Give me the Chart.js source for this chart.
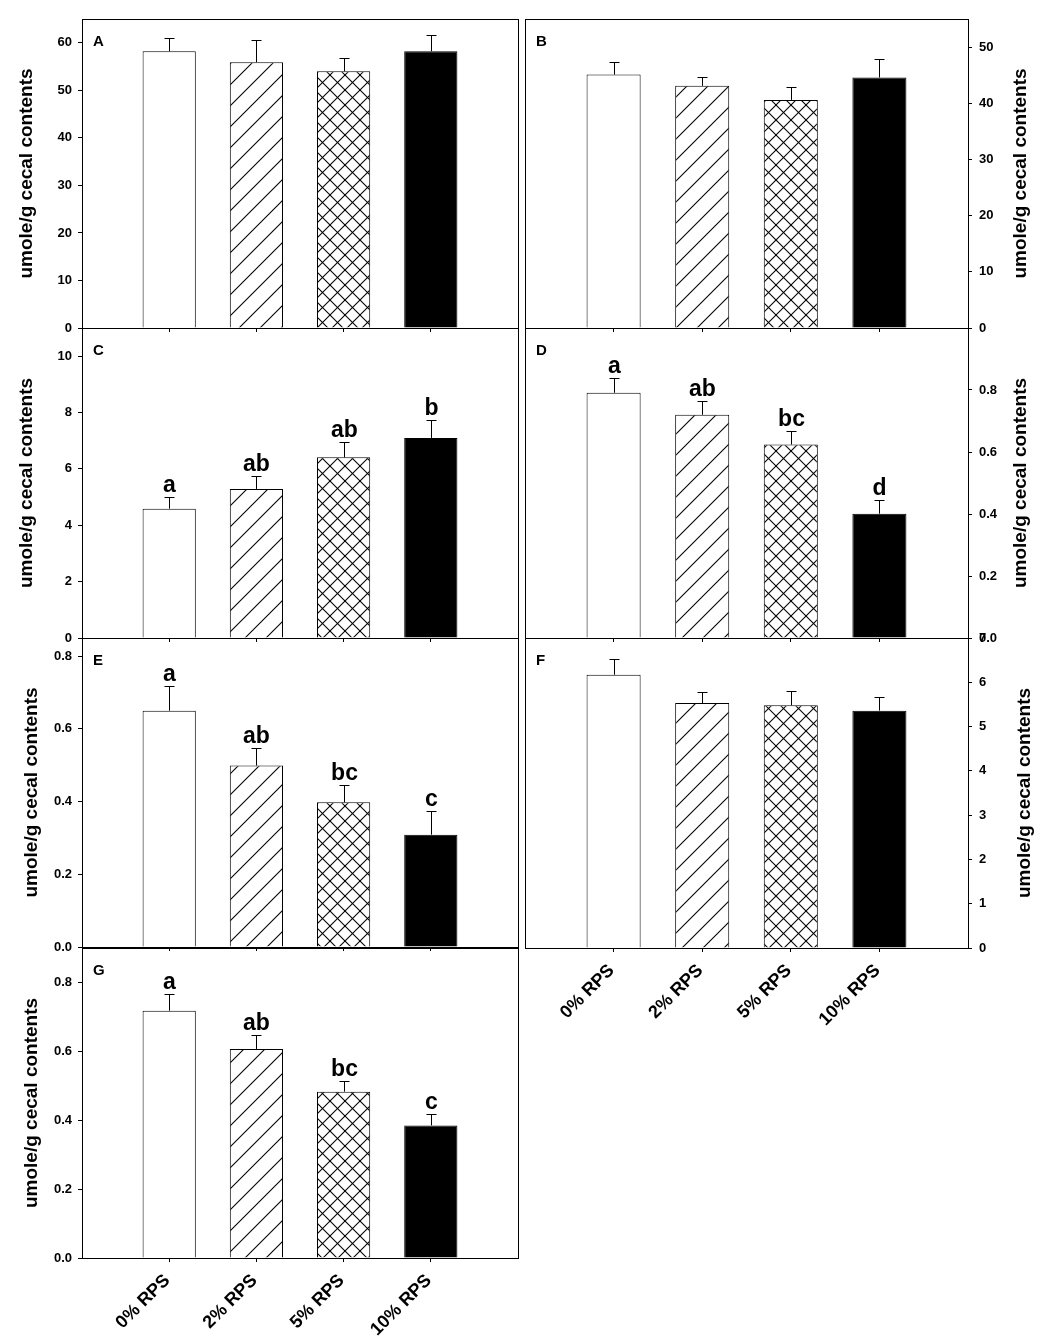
<!DOCTYPE html>
<html>
<head>
<meta charset="utf-8">
<script src="https://cdn.jsdelivr.net/npm/chart.js@4.4.1/dist/chart.umd.min.js"></script>
<style>
  html, body { margin: 0; padding: 0; background: #fff; }
  #figure { position: relative; width: 1037px; height: 1339px; overflow: hidden; }
  #figure canvas { position: absolute; }
</style>
</head>
<body>
<div id="figure"></div>
<script>
// Cecal metabolites by resistant potato starch level, panels A-G

const groups = ['0% RPS', '2% RPS', '5% RPS', '10% RPS'];
const yTitle = 'umole/g cecal contents';

// bar heights (mean) and upward error (SEM)
const meansA = [58.2, 55.9, 54.0, 58.2];
const semA   = [2.7, 4.7, 2.9, 3.5];
const meansB = [45.1, 43.1, 40.6, 44.6];
const semB   = [2.2, 1.5, 2.3, 3.3];
const meansC = [4.59, 5.29, 6.41, 7.10];
const semC   = [0.41, 0.46, 0.53, 0.64];
const meansD = [0.791, 0.720, 0.624, 0.401];
const semD   = [0.048, 0.043, 0.044, 0.044];
const meansE = [0.650, 0.499, 0.398, 0.309];
const semE   = [0.067, 0.049, 0.047, 0.064];
const meansF = [6.17, 5.53, 5.48, 5.36];
const semF   = [0.35, 0.24, 0.33, 0.30];
const meansG = [0.718, 0.607, 0.483, 0.385];
const semG   = [0.049, 0.040, 0.032, 0.033];

// significance letters
const lettersC = ['a', 'ab', 'ab', 'b'];
const lettersD = ['a', 'ab', 'bc', 'd'];
const lettersE = ['a', 'ab', 'bc', 'c'];
const lettersG = ['a', 'ab', 'bc', 'c'];

const FONT = '"Liberation Sans", Arial, sans-serif';
Chart.defaults.font.family = FONT;
Chart.defaults.font.weight = 'bold';
Chart.defaults.color = '#000';

// hatch fills
function makeHatch(kind) {
    const s = kind === 'diag' ? 21 : 15;
    const c = document.createElement('canvas');
    c.width = s; c.height = s;
    const g = c.getContext('2d');
    g.fillStyle = '#fff';
    g.fillRect(0, 0, s, s);
    g.strokeStyle = '#000';
    g.lineWidth = 1.1;
    for (let k = -1; k <= 1; k++) {
        g.beginPath();
        g.moveTo(-s + k * s, 2 * s);
        g.lineTo(2 * s + k * s, -s);
        g.stroke();
        if (kind === 'cross') {
            g.beginPath();
            g.moveTo(-s, -s + k * s);
            g.lineTo(2 * s, 2 * s + k * s);
            g.stroke();
        }
    }
    return g.createPattern(c, 'repeat');
}
const fills = ['#fff', makeHatch('diag'), makeHatch('cross'), '#000'];

// error bars, letters, frame, panel tag and y title
const panelDecor = {
    id: 'panelDecor',
    afterDraw(chart, args, o) {
        const { ctx, chartArea: a } = chart;
        const y = chart.scales.y;
        const bars = chart.getDatasetMeta(0).data;
        ctx.save();
        ctx.strokeStyle = '#000';
        ctx.fillStyle = '#000';
        ctx.lineWidth = 1;
        bars.forEach((bar, i) => {
            const x = Math.round(bar.x) + 0.5;
            const top = Math.round(y.getPixelForValue(o.means[i] + o.sem[i])) + 0.5;
            ctx.beginPath();
            ctx.moveTo(x, bar.y);
            ctx.lineTo(x, top);
            ctx.moveTo(x - 5, top);
            ctx.lineTo(x + 5, top);
            ctx.stroke();
            if (o.letters) {
                ctx.font = 'bold 23px ' + FONT;
                ctx.textAlign = 'center';
                ctx.textBaseline = 'alphabetic';
                ctx.fillText(o.letters[i], x, top - 6);
            }
        });
        ctx.strokeRect(Math.round(a.left) + 0.5, Math.round(a.top) + 0.5,
                       Math.round(a.width), Math.round(a.height));
        ctx.font = 'bold 15px ' + FONT;
        ctx.textAlign = 'left';
        ctx.textBaseline = 'top';
        ctx.fillText(o.tag, a.left + 11, a.top + 15);
        ctx.translate(o.titleX, (a.top + a.bottom) / 2);
        ctx.rotate(-Math.PI / 2);
        ctx.font = 'bold 19px ' + FONT;
        ctx.textAlign = 'center';
        ctx.textBaseline = 'middle';
        ctx.fillText(yTitle, 0, 0);
        ctx.restore();
    }
};

const fig = document.getElementById('figure');
const fmtInt = v => String(v);
const fmtDec = v => v.toFixed(1);

function drawPanel(p) {
    const canvas = document.createElement('canvas');
    canvas.width = p.w;
    canvas.height = p.h;
    canvas.style.left = p.x + 'px';
    canvas.style.top = p.y + 'px';
    fig.appendChild(canvas);
    const right = p.side === 'right';

    new Chart(canvas, {
        type: 'bar',
        data: {
            datasets: [{
                data: p.means.map((v, i) => ({ x: i + 1, y: v })),
                backgroundColor: fills,
                borderColor: '#000',
                borderWidth: 1,
                barPercentage: 0.61,
                categoryPercentage: 1
            }]
        },
        options: {
            responsive: false,
            animation: false,
            layout: { padding: { top: p.padTop, left: right ? 4 : 0, right: right ? 0 : 4, bottom: 0 } },
            plugins: {
                legend: { display: false },
                tooltip: { enabled: false },
                panelDecor: { means: p.means, sem: p.sem, letters: p.letters, tag: p.tag, titleX: p.titleX }
            },
            scales: {
                x: {
                    type: 'linear',
                    min: 0,
                    max: 5,
                    offset: false,
                    grid: {
                        offset: false,
                        drawOnChartArea: false,
                        tickLength: 4,
                        color: ctx => (ctx.tick && ctx.tick.value >= 1 && ctx.tick.value <= 4) ? '#000' : 'rgba(0,0,0,0)'
                    },
                    border: { color: '#000', width: 1 },
                    ticks: {
                        stepSize: 1,
                        autoSkip: false,
                        minRotation: 45,
                        maxRotation: 45,
                        padding: 8,
                        labelOffset: -2,
                        font: { size: 18, weight: 'bold' },
                        callback: v => (p.showLabels && v >= 1 && v <= 4) ? groups[v - 1] : ''
                    },
                    afterFit: s => { s.height = p.xh; s.paddingLeft = 0; s.paddingRight = 0; }
                },
                y: {
                    position: p.side,
                    min: 0,
                    max: p.max,
                    grid: { drawOnChartArea: false, tickLength: 4, color: '#000' },
                    border: { color: '#000', width: 1 },
                    ticks: {
                        stepSize: p.step,
                        includeBounds: false,
                        padding: right ? 7 : 6,
                        font: { size: 13, weight: 'bold' },
                        callback: v => (p.hideTop && v >= p.hideTop) ? '' : p.fmt(v)
                    },
                    afterFit: s => { s.width = p.yw; s.paddingTop = 0; s.paddingBottom = 0; }
                }
            }
        },
        plugins: [panelDecor]
    });
}

const L = { x: 0, w: 522, yw: 82, side: 'left' };
const R = { x: 521, w: 516, yw: 69, side: 'right' };

drawPanel({ ...L, y: 0,   h: 340, padTop: 19, xh: 12, tag: 'A', means: meansA, sem: semA, max: 65,   step: 10,  fmt: fmtInt, titleX: 27 });
drawPanel({ ...R, y: 0,   h: 340, padTop: 19, xh: 12, tag: 'B', means: meansB, sem: semB, max: 55,   step: 10,  fmt: fmtInt, titleX: 500 });
drawPanel({ ...L, y: 316, h: 334, padTop: 12, xh: 12, tag: 'C', means: meansC, sem: semC, letters: lettersC, max: 11, step: 2, fmt: fmtInt, titleX: 27 });
drawPanel({ ...R, y: 316, h: 334, padTop: 12, xh: 12, tag: 'D', means: meansD, sem: semD, letters: lettersD, max: 1.0, step: 0.2, fmt: fmtDec, hideTop: 0.99, titleX: 500 });
drawPanel({ ...L, y: 626, h: 333, padTop: 12, xh: 12, tag: 'E', means: meansE, sem: semE, letters: lettersE, max: 0.85, step: 0.2, fmt: fmtDec, titleX: 32 });
drawPanel({ ...R, y: 626, h: 422, padTop: 12, xh: 100, tag: 'F', means: meansF, sem: semF, max: 7, step: 1, fmt: fmtInt, titleX: 504, showLabels: true });
drawPanel({ ...L, y: 936, h: 403, padTop: 12, xh: 81, tag: 'G', means: meansG, sem: semG, letters: lettersG, max: 0.9, step: 0.2, fmt: fmtDec, titleX: 32, showLabels: true });
</script>
</body>
</html>
